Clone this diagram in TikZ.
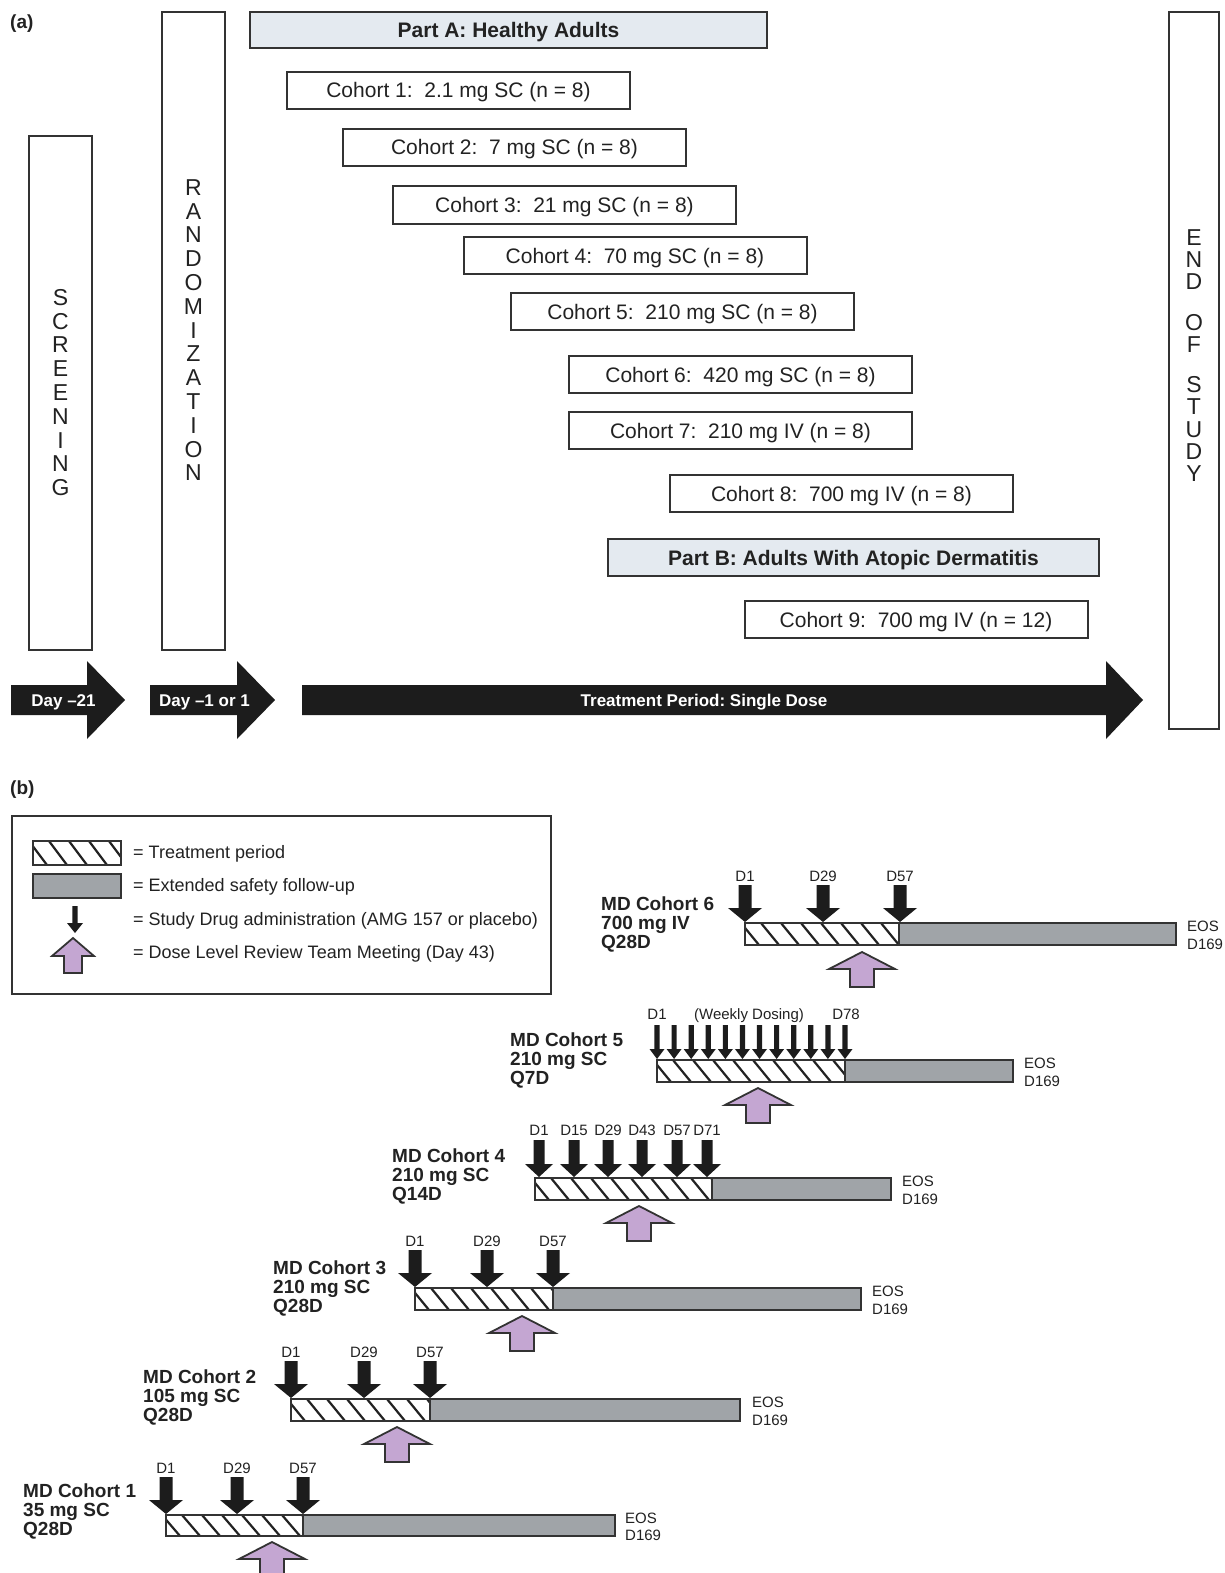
\documentclass[tikz,border=0pt]{standalone}
\usepackage{fontspec}
\setmainfont{Liberation Sans}
\frenchspacing
\definecolor{linec}{HTML}{333333}
\definecolor{textc}{HTML}{222222}
\definecolor{arrc}{HTML}{1C1C1C}
\definecolor{greyc}{HTML}{A0A4A8}
\definecolor{purplec}{HTML}{C4A6D2}
\definecolor{partfill}{HTML}{E4EAF0}

\newcommand\dnarr[6]{\fill[arrc] ({#1-#4},#2) -- ({#1+#4},#2) -- ({#1+#4},{#3-#6}) -- ({#1+#5},{#3-#6}) -- (#1,#3) -- ({#1-#5},{#3-#6}) -- ({#1-#4},{#3-#6}) -- cycle;}
\newcommand\uparr[2]{\filldraw[purp] (#1,#2) -- ({#1+33},{#2+17}) -- ({#1+12},{#2+17}) -- ({#1+12},{#2+35}) -- ({#1-12},{#2+35}) -- ({#1-12},{#2+17}) -- ({#1-33},{#2+17}) -- cycle;}
\newcommand\hatchrect[4]{\begin{scope}\clip (#1,#3) rectangle (#2,#4);
\pgfmathtruncatemacro\nhat{(#2-#1)/20+2}
\foreach \k in {-1,...,\nhat}{\draw[hatchl] ({#1+\k*20-4},#3) -- ({#1+\k*20+14},#4);}
\end{scope}}
\newcommand\cbar[5]{\fill[white] (#1,#4) rectangle (#2,#5);
\hatchrect{#1}{#2}{#4}{#5}
\fill[greyc] (#2,#4) rectangle (#3,#5);
\draw[outl] (#1,#4) rectangle (#3,#5);
\draw[outl] (#2,#4) -- (#2,#5);}
\newcommand\dose[4]{\dnarr{#2}{#3-38}{#3-1}{6.5}{17}{14}\node[daylab] (#1) at (#2,#3-47) {#4};}
\newcommand\mdlabel[6]{\node[mdlab] (#1a) at (#2,#3) {#4};
\node[mdlab] (#1b) at (#2,{#3+19}) {#5};
\node[mdlab] (#1c) at (#2,{#3+38}) {#6};}
\newcommand\eoslabel[3]{\node[eoslab] (#1e) at (#2,{#3-7.5}) {EOS};
\node[eoslab] (#1d) at (#2,{#3+10}) {D169};}

\begin{document}
\begin{tikzpicture}[x=1pt,y=-1pt,
  outl/.style={draw=linec,line width=2pt},
  hatchl/.style={draw=textc,line width=2.2pt},
  purp/.style={fill=purplec,draw=linec,line width=1.8pt,line join=miter},
  cbox/.style={draw=linec,line width=2pt,fill=white,minimum width=343pt,minimum height=37pt,inner sep=0pt,
    font=\fontsize{21}{25}\selectfont,text=textc,text height=15pt,text depth=0pt},
  pbox/.style={cbox,fill=partfill,font=\bfseries\fontsize{21}{25}\selectfont},
  vlet/.style={font=\fontsize{23}{27}\selectfont,inner sep=0pt,text height=16.5pt,text depth=0pt,text=textc},
  daylab/.style={font=\fontsize{15}{18}\selectfont,inner sep=0pt,text height=10.8pt,text depth=0pt,text=textc},
  mdlab/.style={font=\bfseries\fontsize{19}{22}\selectfont,inner sep=0pt,anchor=west,text height=13.6pt,text depth=0pt,text=textc},
  eoslab/.style={font=\fontsize{15}{18}\selectfont,inner sep=0pt,anchor=west,text height=10.8pt,text depth=0pt,text=textc},
  legtxt/.style={font=\fontsize{18}{21}\selectfont,inner sep=0pt,anchor=west,text height=12.9pt,text depth=0pt,text=textc},
  arrtxt/.style={font=\bfseries\fontsize{17}{20}\selectfont,text=white,inner sep=0pt,text height=12.2pt,text depth=0pt},
  panel/.style={font=\bfseries\fontsize{19}{22}\selectfont,inner sep=0pt,anchor=west,text height=13.6pt,text depth=0pt,text=textc}
]
\fill[white] (0,0) rectangle (1224,1573);
\useasboundingbox (0,0) rectangle (1224,1573);

% ---------------- Part (a) ----------------
\node[panel] (pa) at (10,22) {(a)};

\draw[outl,fill=white] (29,136) rectangle (92,650);
\draw[outl,fill=white] (162,12) rectangle (225,650);
\draw[outl,fill=white] (1169,12) rectangle (1219,729);

\foreach \l [count=\i from 0] in {S,C,R,E,E,N,I,N,G}
  {\node[vlet] (scr\i) at (60.5,{297+23.8*\i}) {\l};}
\foreach \l [count=\i from 0] in {R,A,N,D,O,M,I,Z,A,T,I,O,N}
  {\node[vlet] (rnd\i) at (193.5,{187+23.8*\i}) {\l};}
\foreach \l/\yy [count=\i] in {E/237,N/259,D/281,O/321.8,F/344,S/384,T/406.6,U/429,D/451,Y/473}
  {\node[vlet] (eos\i) at (1194,\yy) {\l};}

\node[pbox,minimum width=517pt,minimum height=36pt] (parta) at (508.5,30) {Part A: Healthy Adults};
\node[cbox] (c1) at (458.5,90.5) {Cohort 1:\ \ 2.1 mg SC (n = 8)};
\node[cbox] (c2) at (514.5,147.5) {Cohort 2:\ \ 7 mg SC (n = 8)};
\node[cbox] (c3) at (564.5,205) {Cohort 3:\ \ 21 mg SC (n = 8)};
\node[cbox] (c4) at (635,255.5) {Cohort 4:\ \ 70 mg SC (n = 8)};
\node[cbox] (c5) at (682.5,311.5) {Cohort 5:\ \ 210 mg SC (n = 8)};
\node[cbox] (c6) at (740.5,374.5) {Cohort 6:\ \ 420 mg SC (n = 8)};
\node[cbox] (c7) at (740.5,430.5) {Cohort 7:\ \ 210 mg IV (n = 8)};
\node[cbox] (c8) at (841.5,493.5) {Cohort 8:\ \ 700 mg IV (n = 8)};
\node[pbox,minimum width=491pt] (partb) at (853.5,557.5) {Part B: Adults With Atopic Dermatitis};
\node[cbox] (c9) at (916,619.5) {Cohort 9:\ \ 700 mg IV (n = 12)};

% big arrows
\fill[arrc] (11,685) -- (87,685) -- (87,661) -- (125,700) -- (87,739) -- (87,715) -- (11,715) -- cycle;
\fill[arrc] (150,685) -- (237,685) -- (237,661) -- (275,700) -- (237,739) -- (237,715) -- (150,715) -- cycle;
\fill[arrc] (302,685) -- (1106,685) -- (1106,661) -- (1143,700) -- (1106,739) -- (1106,715) -- (302,715) -- cycle;
\node[arrtxt] (d21) at (63.5,700) {Day –21};
\node[arrtxt] (d1) at (204.5,700) {Day –1 or 1};
\node[arrtxt] (tp) at (704,700) {Treatment Period: Single Dose};

% ---------------- Part (b) ----------------
\node[panel] (pb) at (10,788) {(b)};

% legend
\draw[outl] (12,816) rectangle (551,994);
\fill[white] (33,841) rectangle (121,865);
\hatchrect{33}{121}{841}{865}
\draw[outl] (33,841) rectangle (121,865);
\fill[greyc] (33,874) rectangle (121,898);
\draw[outl] (33,874) rectangle (121,898);
\dnarr{75}{906}{933}{2.6}{8}{10}
\filldraw[purp] (73,938) -- (94,956) -- (82,956) -- (82,973) -- (64,973) -- (64,956) -- (52,956) -- cycle;
\node[legtxt] (lg1) at (133,852) {= Treatment period};
\node[legtxt] (lg2) at (133,885) {= Extended safety follow-up};
\node[legtxt] (lg3) at (133,919) {= Study Drug administration (AMG 157 or placebo)};
\node[legtxt] (lg4) at (133,952) {= Dose Level Review Team Meeting (Day 43)};

% MD Cohort 6
\mdlabel{m6}{601}{904}{MD Cohort 6}{700 mg IV}{Q28D}
\cbar{745}{899}{1176}{923}{945}
\dose{m6d1}{745}{923}{D1}
\dose{m6d29}{823}{923}{D29}
\dose{m6d57}{900}{923}{D57}
\uparr{862}{952}
\eoslabel{m6}{1187}{934}

% MD Cohort 5
\mdlabel{m5}{510}{1040}{MD Cohort 5}{210 mg SC}{Q7D}
\cbar{657}{845}{1013}{1060}{1082}
\foreach \j in {0,...,11} {\dnarr{657+17.09*\j}{1025}{1059}{2.6}{7.5}{10}}
\node[daylab] (m5d1) at (657,1014) {D1};
\node[daylab] (m5wk) at (749,1014) {(Weekly Dosing)};
\node[daylab] (m5d78) at (846,1014) {D78};
\uparr{758}{1088}
\eoslabel{m5}{1024}{1071}

% MD Cohort 4
\mdlabel{m4}{392}{1156}{MD Cohort 4}{210 mg SC}{Q14D}
\cbar{535}{712}{891}{1178}{1200}
\foreach \xx/\lab [count=\j] in {539/D1,574/D15,608/D29,642/D43,677/D57,707/D71}{
  \dnarr{\xx}{1140}{1177}{5.5}{14}{13}
  \node[daylab] (m4d\j) at (\xx,1130) {\lab};}
\uparr{639}{1206}
\eoslabel{m4}{902}{1189}

% MD Cohort 3
\mdlabel{m3}{273}{1268}{MD Cohort 3}{210 mg SC}{Q28D}
\cbar{415}{553}{861}{1288}{1310}
\dose{m3d1}{415}{1288}{D1}
\dose{m3d29}{487}{1288}{D29}
\dose{m3d57}{553}{1288}{D57}
\uparr{522}{1316}
\eoslabel{m3}{872}{1299}

% MD Cohort 2
\mdlabel{m2}{143}{1377}{MD Cohort 2}{105 mg SC}{Q28D}
\cbar{291}{430}{740}{1399}{1421}
\dose{m2d1}{291}{1399}{D1}
\dose{m2d29}{364}{1399}{D29}
\dose{m2d57}{430}{1399}{D57}
\uparr{397}{1427}
\eoslabel{m2}{752}{1410}

% MD Cohort 1
\mdlabel{m1}{23}{1491}{MD Cohort 1}{35 mg SC}{Q28D}
\cbar{166}{303}{615}{1515}{1536}
\dose{m1d1}{166}{1515}{D1}
\dose{m1d29}{237}{1515}{D29}
\dose{m1d57}{303}{1515}{D57}
\uparr{272}{1542}
\eoslabel{m1}{625}{1525.5}
\end{tikzpicture}
\end{document}
